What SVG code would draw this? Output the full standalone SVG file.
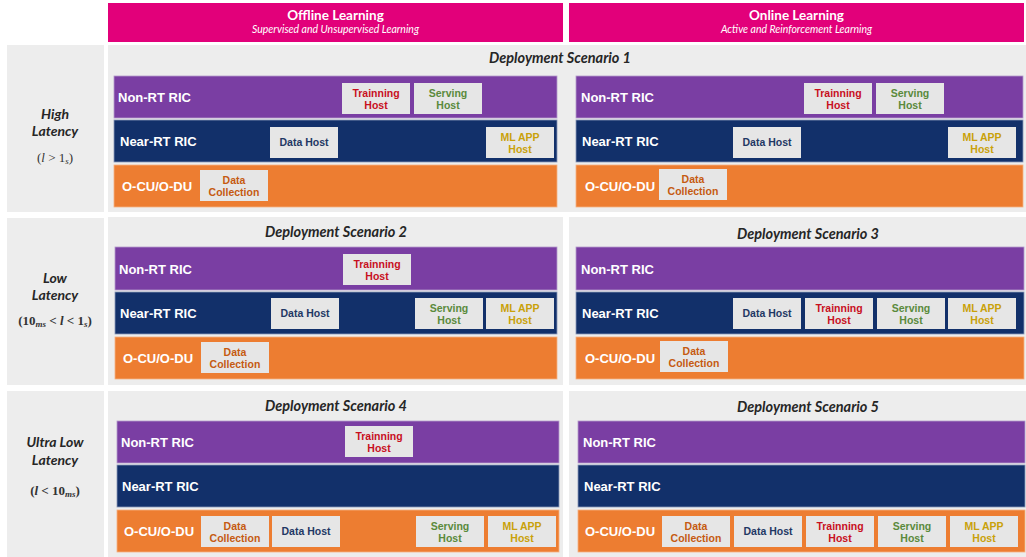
<svg xmlns="http://www.w3.org/2000/svg" width="1026" height="557" viewBox="0 0 1026 557">
<style>
.hdr{fill:#E2007A}
.panel{fill:#EDEDED}
.nonrt{fill:#7A3EA3;stroke:#B59BCB;stroke-width:0.8}
.nearrt{fill:#12306A;stroke:#8A98B8;stroke-width:0.8}
.ocu{fill:#ED7D31;stroke:#F4B183;stroke-width:0.8}
.box{fill:#E6E6E6}
.ht{font-family:Lato,"Open Sans",sans-serif;font-weight:bold;font-size:13.5px;fill:#fff;text-anchor:middle}
.hs{font-family:Lato,"Open Sans",sans-serif;font-style:italic;font-size:10.5px;fill:#fff;text-anchor:middle}
.ttl{font-family:Lato,"Open Sans",sans-serif;font-weight:bold;font-style:italic;font-size:14.5px;fill:#262626;text-anchor:middle}
.lat{font-family:Lato,"Open Sans",sans-serif;font-weight:bold;font-style:italic;font-size:14px;fill:#262626;text-anchor:middle}
.math{font-family:"Liberation Serif","DejaVu Serif",serif;font-size:13px;fill:#333;text-anchor:middle}
.mb{font-weight:bold}
.bl{font-family:"Liberation Sans",Arial,sans-serif;font-weight:bold;font-size:13px;fill:#fff}
.bt{font-family:"Liberation Sans",Arial,sans-serif;font-weight:bold;font-size:10.5px;text-anchor:middle}
.tr{fill:#C8101E}
.sv{fill:#5A8A3C}
.dh{fill:#1F3864}
.ml{fill:#C9A10A}
.dc{fill:#C55A11}
</style>

<g id="header-offline">
<rect class="hdr" x="108" y="3" width="455" height="39"/>
<text class="ht" x="335.5" y="20">Offline Learning</text>
<text class="hs" x="335.5" y="33">Supervised and Unsupervised Learning</text>
</g>
<g id="header-online">
<rect class="hdr" x="569" y="3" width="455" height="39"/>
<text class="ht" x="796.5" y="20">Online Learning</text>
<text class="hs" x="796.5" y="33">Active and Reinforcement Learning</text>
</g>

<g id="latency-high">
<rect class="panel" x="7" y="45" width="97" height="167"/>
<text class="lat" x="55" y="119">High</text>
<text class="lat" x="55" y="136">Latency</text>
<text class="math" x="55" y="162">(<tspan font-style="italic">l</tspan> &gt; 1<tspan font-size="9" dy="2" font-style="italic">s</tspan><tspan dy="-2">)</tspan></text>
</g>
<g id="latency-low">
<rect class="panel" x="7" y="218" width="97" height="167"/>
<text class="lat" x="55" y="283">Low</text>
<text class="lat" x="55" y="300">Latency</text>
<text class="math mb" x="55" y="325">(10<tspan font-size="9" dy="2" font-style="italic">ms</tspan><tspan dy="-2"> &lt; </tspan><tspan font-style="italic">l</tspan> &lt; 1<tspan font-size="9" dy="2" font-style="italic">s</tspan><tspan dy="-2">)</tspan></text>
</g>
<g id="latency-ultra">
<rect class="panel" x="7" y="391" width="97" height="166"/>
<text class="lat" x="55" y="447">Ultra Low</text>
<text class="lat" x="55" y="465">Latency</text>
<text class="math mb" x="55" y="495">(<tspan font-style="italic">l</tspan> &lt; 10<tspan font-size="9" dy="2" font-style="italic">ms</tspan><tspan dy="-2">)</tspan></text>
</g>

<g id="scenario-1">
<rect class="panel" x="108" y="45" width="918" height="167"/>
<text class="ttl" x="560" y="63">Deployment Scenario 1</text>
<rect class="nonrt" x="114" y="76" width="443" height="42"/>
<text class="bl" x="118" y="102">Non-RT RIC</text>
<rect class="nearrt" x="114" y="120" width="443" height="42"/>
<text class="bl" x="120" y="146">Near-RT RIC</text>
<rect class="ocu" x="114" y="165" width="443" height="42"/>
<text class="bl" x="122" y="191">O-CU/O-DU</text>
<rect class="box" x="342" y="83" width="68" height="31"/>
<text class="bt tr" x="376" y="97">Trainning</text><text class="bt tr" x="376" y="109">Host</text>
<rect class="box" x="414" y="83" width="68" height="31"/>
<text class="bt sv" x="448" y="97">Serving</text><text class="bt sv" x="448" y="109">Host</text>
<rect class="box" x="270" y="127" width="68" height="31"/>
<text class="bt dh" x="304" y="146">Data Host</text>
<rect class="box" x="486" y="127" width="68" height="31"/>
<text class="bt ml" x="520" y="141">ML APP</text><text class="bt ml" x="520" y="153">Host</text>
<rect class="box" x="200" y="170" width="68" height="31"/>
<text class="bt dc" x="234" y="184">Data</text><text class="bt dc" x="234" y="196">Collection</text>
<rect class="nonrt" x="576" y="76" width="447" height="42"/>
<text class="bl" x="581" y="102">Non-RT RIC</text>
<rect class="nearrt" x="576" y="120" width="447" height="42"/>
<text class="bl" x="582" y="146">Near-RT RIC</text>
<rect class="ocu" x="576" y="165" width="447" height="42"/>
<text class="bl" x="585" y="191">O-CU/O-DU</text>
<rect class="box" x="804" y="83" width="68" height="31"/>
<text class="bt tr" x="838" y="97">Trainning</text><text class="bt tr" x="838" y="109">Host</text>
<rect class="box" x="876" y="83" width="68" height="31"/>
<text class="bt sv" x="910" y="97">Serving</text><text class="bt sv" x="910" y="109">Host</text>
<rect class="box" x="733" y="127" width="68" height="31"/>
<text class="bt dh" x="767" y="146">Data Host</text>
<rect class="box" x="948" y="127" width="68" height="31"/>
<text class="bt ml" x="982" y="141">ML APP</text><text class="bt ml" x="982" y="153">Host</text>
<rect class="box" x="659" y="169" width="68" height="31"/>
<text class="bt dc" x="693" y="183">Data</text><text class="bt dc" x="693" y="195">Collection</text>
</g>

<g id="scenario-2">
<rect class="panel" x="108" y="217" width="455" height="168"/>
<text class="ttl" x="336" y="237">Deployment Scenario 2</text>
<rect class="nonrt" x="115" y="247" width="442" height="43"/>
<text class="bl" x="119" y="274">Non-RT RIC</text>
<rect class="nearrt" x="115" y="292" width="442" height="42"/>
<text class="bl" x="120" y="318">Near-RT RIC</text>
<rect class="ocu" x="115" y="337" width="442" height="42"/>
<text class="bl" x="123" y="363">O-CU/O-DU</text>
<rect class="box" x="343" y="254" width="68" height="31"/>
<text class="bt tr" x="377" y="268">Trainning</text><text class="bt tr" x="377" y="280">Host</text>
<rect class="box" x="271" y="298" width="68" height="31"/>
<text class="bt dh" x="305" y="317">Data Host</text>
<rect class="box" x="415" y="298" width="68" height="31"/>
<text class="bt sv" x="449" y="312">Serving</text><text class="bt sv" x="449" y="324">Host</text>
<rect class="box" x="486" y="298" width="68" height="31"/>
<text class="bt ml" x="520" y="312">ML APP</text><text class="bt ml" x="520" y="324">Host</text>
<rect class="box" x="201" y="342" width="68" height="31"/>
<text class="bt dc" x="235" y="356">Data</text><text class="bt dc" x="235" y="368">Collection</text>
</g>

<g id="scenario-3">
<rect class="panel" x="569" y="217" width="457" height="168"/>
<text class="ttl" x="808" y="239">Deployment Scenario 3</text>
<rect class="nonrt" x="576" y="247" width="448" height="43"/>
<text class="bl" x="581" y="274">Non-RT RIC</text>
<rect class="nearrt" x="576" y="292" width="448" height="42"/>
<text class="bl" x="582" y="318">Near-RT RIC</text>
<rect class="ocu" x="576" y="337" width="448" height="42"/>
<text class="bl" x="585" y="363">O-CU/O-DU</text>
<rect class="box" x="733" y="298" width="68" height="31"/>
<text class="bt dh" x="767" y="317">Data Host</text>
<rect class="box" x="805" y="298" width="68" height="31"/>
<text class="bt tr" x="839" y="312">Trainning</text><text class="bt tr" x="839" y="324">Host</text>
<rect class="box" x="877" y="298" width="68" height="31"/>
<text class="bt sv" x="911" y="312">Serving</text><text class="bt sv" x="911" y="324">Host</text>
<rect class="box" x="948" y="298" width="68" height="31"/>
<text class="bt ml" x="982" y="312">ML APP</text><text class="bt ml" x="982" y="324">Host</text>
<rect class="box" x="660" y="341" width="68" height="31"/>
<text class="bt dc" x="694" y="355">Data</text><text class="bt dc" x="694" y="367">Collection</text>
</g>

<g id="scenario-4">
<rect class="panel" x="108" y="391" width="455" height="166"/>
<text class="ttl" x="336" y="411">Deployment Scenario 4</text>
<rect class="nonrt" x="117" y="421" width="442" height="42"/>
<text class="bl" x="121" y="447">Non-RT RIC</text>
<rect class="nearrt" x="117" y="465" width="442" height="42"/>
<text class="bl" x="122" y="491">Near-RT RIC</text>
<rect class="ocu" x="117" y="510" width="442" height="42"/>
<text class="bl" x="124" y="536">O-CU/O-DU</text>
<rect class="box" x="345" y="426" width="68" height="31"/>
<text class="bt tr" x="379" y="440">Trainning</text><text class="bt tr" x="379" y="452">Host</text>
<rect class="box" x="201" y="516" width="68" height="31"/>
<text class="bt dc" x="235" y="530">Data</text><text class="bt dc" x="235" y="542">Collection</text>
<rect class="box" x="272" y="516" width="68" height="31"/>
<text class="bt dh" x="306" y="535">Data Host</text>
<rect class="box" x="416" y="516" width="68" height="31"/>
<text class="bt sv" x="450" y="530">Serving</text><text class="bt sv" x="450" y="542">Host</text>
<rect class="box" x="488" y="516" width="68" height="31"/>
<text class="bt ml" x="522" y="530">ML APP</text><text class="bt ml" x="522" y="542">Host</text>
</g>

<g id="scenario-5">
<rect class="panel" x="569" y="391" width="457" height="166"/>
<text class="ttl" x="808" y="412">Deployment Scenario 5</text>
<rect class="nonrt" x="578" y="421" width="447" height="42"/>
<text class="bl" x="583" y="447">Non-RT RIC</text>
<rect class="nearrt" x="578" y="465" width="447" height="42"/>
<text class="bl" x="584" y="491">Near-RT RIC</text>
<rect class="ocu" x="578" y="510" width="447" height="42"/>
<text class="bl" x="585" y="536">O-CU/O-DU</text>
<rect class="box" x="662" y="516" width="68" height="31"/>
<text class="bt dc" x="696" y="530">Data</text><text class="bt dc" x="696" y="542">Collection</text>
<rect class="box" x="734" y="516" width="68" height="31"/>
<text class="bt dh" x="768" y="535">Data Host</text>
<rect class="box" x="806" y="516" width="68" height="31"/>
<text class="bt tr" x="840" y="530">Trainning</text><text class="bt tr" x="840" y="542">Host</text>
<rect class="box" x="878" y="516" width="68" height="31"/>
<text class="bt sv" x="912" y="530">Serving</text><text class="bt sv" x="912" y="542">Host</text>
<rect class="box" x="950" y="516" width="68" height="31"/>
<text class="bt ml" x="984" y="530">ML APP</text><text class="bt ml" x="984" y="542">Host</text>
</g>

<g id="connectors"></g>
</svg>
